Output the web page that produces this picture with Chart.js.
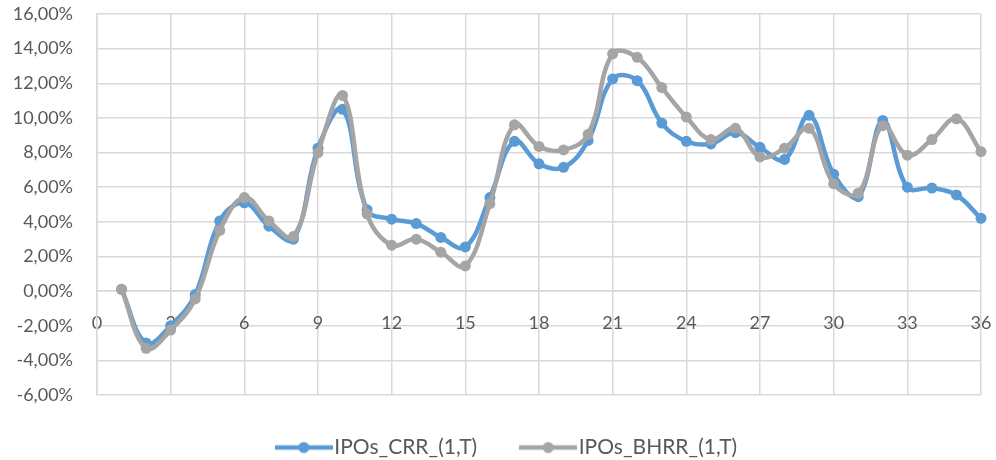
<!DOCTYPE html>
<html>
<head>
<meta charset="utf-8">
<script src="https://cdn.jsdelivr.net/npm/chart.js@4/dist/chart.umd.min.js"></script>
<style>
  html, body { margin: 0; padding: 0; background: #fff; }
  #wrap { width: 996px; height: 460px; }
</style>
</head>
<body>
<div id="wrap"><canvas id="chart" width="996" height="460"></canvas></div>
<script>
// months after listing
const periods = [1, 2, 3, 4, 5, 6, 7, 8, 9, 10, 11, 12, 13, 14, 15, 16, 17, 18,
  19, 20, 21, 22, 23, 24, 25, 26, 27, 28, 29, 30, 31, 32, 33, 34, 35, 36];

const crr = [0.1, -3.0, -2.0, -0.2, 4.05, 5.1, 3.75, 3.0, 8.25, 10.5, 4.7, 4.15,
  3.9, 3.1, 2.55, 5.4, 8.65, 7.35, 7.15, 8.7, 12.25, 12.15, 9.7, 8.65,
  8.5, 9.15, 8.3, 7.6, 10.15, 6.75, 5.45, 9.85, 6.0, 5.95, 5.55, 4.2];

const bhrr = [0.1, -3.3, -2.25, -0.45, 3.5, 5.4, 4.05, 3.15, 8.0, 11.3, 4.45, 2.65,
  3.0, 2.25, 1.45, 5.05, 9.6, 8.35, 8.15, 9.05, 13.7, 13.5, 11.75, 10.05,
  8.75, 9.4, 7.75, 8.25, 9.4, 6.2, 5.65, 9.55, 7.85, 8.75, 9.95, 8.05];

const seriesNames = ["IPOs_CRR_(1,T)", "IPOs_BHRR_(1,T)"];

const BLUE = "#5B9BD5";
const GREY = "#A5A5A5";
const TEXT = "#595959";
const GRID = "#D9D9D9";

// little line-with-dot swatch for the legend
const swatch = (color) => {
  const c = document.createElement("canvas");
  c.width = 58;
  c.height = 14;
  const g = c.getContext("2d");
  g.strokeStyle = color;
  g.lineWidth = 4.5;
  g.beginPath();
  g.moveTo(0, 7);
  g.lineTo(58, 7);
  g.stroke();
  g.fillStyle = color;
  g.beginPath();
  g.arc(29, 7, 5.5, 0, Math.PI * 2);
  g.fill();
  return c;
};

const toPoints = (vals) => periods.map((p, i) => ({ x: p, y: vals[i] }));

const fmtPct = (v) => v.toFixed(2).replace(".", ",") + "%";

// no label overhang padding, the plot box is set by layout.padding
const noOverhang = (scale) => {
  scale.paddingTop = 0;
  scale.paddingBottom = 0;
  scale.paddingLeft = 0;
  scale.paddingRight = 0;
};

// fixed legend strip under the plot, nudged right and up a little
// (legend clips to its own box, so only the top edge moves)
const legendBox = {
  id: "legendBox",
  afterInit(chart) {
    const fit = chart.legend.fit;
    chart.legend.fit = function () {
      fit.bind(chart.legend)();
      this.height = 65;
    };
  },
  afterLayout(chart) {
    const lg = chart.legend;
    lg.left += 20;
    lg.right += 20;
    lg.top -= 9;
  },
};

Chart.defaults.font.family = "Lato, 'Liberation Sans', sans-serif";
Chart.defaults.font.size = 18;
Chart.defaults.color = TEXT;

new Chart(document.getElementById("chart"), {
  type: "line",
  data: {
    datasets: [
      {
        label: seriesNames[0],
        data: toPoints(crr),
        borderColor: BLUE,
        backgroundColor: BLUE,
        borderWidth: 4.5,
        pointRadius: 5.5,
        pointBorderWidth: 0,
        pointStyle: "circle",
        tension: 0.4,
        clip: false,
        order: 1,
      },
      {
        label: seriesNames[1],
        data: toPoints(bhrr),
        borderColor: GREY,
        backgroundColor: GREY,
        borderWidth: 4.5,
        pointRadius: 5.5,
        pointBorderWidth: 0,
        pointStyle: "circle",
        tension: 0.4,
        clip: false,
        order: 0,
      },
    ],
  },
  options: {
    responsive: false,
    animation: false,
    layout: { padding: { top: 14, right: 15, left: 0, bottom: 0 } },
    plugins: {
      tooltip: { enabled: false },
      legend: {
        position: "bottom",
        labels: {
          usePointStyle: true,
          pointStyleWidth: 40,
          padding: 51,
          color: TEXT,
          font: { size: 21 },
          sort: (a, b) => a.datasetIndex - b.datasetIndex,
          generateLabels: (chart) =>
            chart.data.datasets.map((ds, i) => ({
              text: ds.label,
              datasetIndex: i,
              fontColor: TEXT,
              pointStyle: swatch(ds.borderColor),
              lineWidth: 0,
              strokeStyle: "transparent",
              fillStyle: ds.borderColor,
              hidden: false,
            })),
        },
      },
    },
    scales: {
      x: {
        type: "linear",
        position: { y: 0 },
        min: 0,
        max: 36,
        ticks: { stepSize: 3, padding: 21, color: TEXT },
        grid: { color: GRID, lineWidth: 1.5, drawTicks: false },
        border: { color: GRID, width: 1.5 },
        afterFit: noOverhang,
      },
      y: {
        min: -6,
        max: 16,
        ticks: { stepSize: 2, padding: 24, color: TEXT, callback: (v) => fmtPct(v) },
        grid: { color: GRID, lineWidth: 1.5, drawTicks: false },
        border: { color: GRID, width: 1.5 },
        afterFit: (scale) => {
          noOverhang(scale);
          scale.width = 97;
        },
      },
    },
  },
  plugins: [legendBox],
});
</script>
</body>
</html>
